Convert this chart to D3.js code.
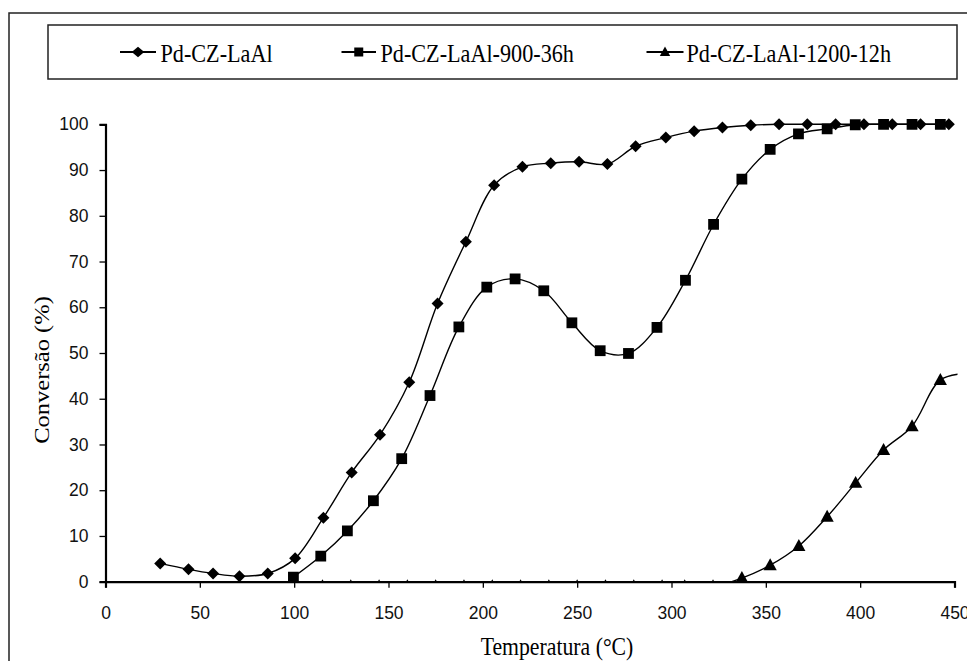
<!DOCTYPE html>
<html>
<head>
<meta charset="utf-8">
<script src="https://cdn.jsdelivr.net/npm/d3@7"></script>
<style>
  html, body { margin: 0; padding: 0; background: #fff; }
  svg { display: block; }
</style>
</head>
<body>
<svg id="chart" width="967" height="661"></svg>
<script>
// ---- Data ----
const seriesNames = ["Pd-CZ-LaAl", "Pd-CZ-LaAl-900-36h", "Pd-CZ-LaAl-1200-12h"];

const tempA = [29, 44, 57, 71, 86, 100.5, 115.5, 130.5, 145.5, 161, 176, 191, 206, 221, 236, 251, 266, 281, 297, 312, 327, 342, 357, 372, 387, 402, 417, 432, 447];
const convA = [4.0, 2.7, 1.8, 1.2, 1.8, 5.1, 14.0, 23.9, 32.1, 43.6, 60.8, 74.3, 86.7, 90.7, 91.5, 91.8, 91.3, 95.2, 97.1, 98.5, 99.3, 99.8, 100, 100, 100, 100, 100, 100, 100];

const tempB = [99.6, 114.1, 128.2, 142, 157, 172, 187.3, 202.1, 217.1, 232.3, 247.2, 262.2, 277.2, 292.3, 307.4, 322.3, 337.3, 352.3, 367.3, 382.5, 397.4, 412.4, 427.5, 442.5];
const convB = [1.0, 5.6, 11.1, 17.7, 26.9, 40.7, 55.7, 64.4, 66.2, 63.6, 56.6, 50.5, 49.9, 55.6, 65.9, 78.1, 88.0, 94.5, 97.9, 99.0, 99.9, 100, 100, 100];

const tempC = [100, 115, 130, 145, 160, 175, 190, 205, 220, 235, 250, 265, 280, 295, 307, 322, 337.3, 352.3, 367.5, 382.5, 397.6, 412.4, 427.5, 442.5, 457.5];
const convC = [-1, -1, -1, -1, -1, -1, -1, -1, -1, -1, -1, -1, -1, -1, -1, -1, 0.8, 3.6, 7.8, 14.2, 21.6, 28.8, 34.0, 44.1, 45.6];

const xTicks = [0, 50, 100, 150, 200, 250, 300, 350, 400, 450];
const yTicks = [0, 10, 20, 30, 40, 50, 60, 70, 80, 90, 100];
const markerTypes = ["diamond", "square", "triangle"];

// ---- Layout ----
const svg = d3.select("#chart");
const X0 = 105.5, X1 = 954.5, Y0 = 581.7, Y1 = 124.3;
const x = d3.scaleLinear().domain([0, 450]).range([X0, X1]);
const y = d3.scaleLinear().domain([0, 100]).range([Y0, Y1]);

const serif = "'Liberation Serif', 'Times New Roman', serif";
const sans = "'Liberation Sans', Arial, sans-serif";

// outer frame
svg.append("rect").attr("x", 9).attr("y", 13).attr("width", 1000).attr("height", 700)
  .attr("fill", "none").attr("stroke", "#222").attr("stroke-width", 1.5);

// marker path generator
function markerPath(type, s) {
  if (type === "diamond") return `M0,${-s}L${s},0L0,${s}L${-s},0Z`;
  if (type === "square") return `M${-s},${-s}H${s}V${s}H${-s}Z`;
  return `M0,${-s*1.05}L${s},${s*0.75}L${-s},${s*0.75}Z`;
}
const markerSize = { diamond: 6, square: 5.4, triangle: 6.6 };

// ---- Legend ----
const legend = svg.append("g");
legend.append("rect").attr("x", 48).attr("y", 25).attr("width", 909).attr("height", 54)
  .attr("fill", "#fff").attr("stroke", "#222").attr("stroke-width", 1.5);
const legendItems = [
  { lx0: 120, lx1: 156, tx: 160.5 },
  { lx0: 341.5, lx1: 376, tx: 380.5 },
  { lx0: 646.5, lx1: 683.5, tx: 686.5 }
];
legendItems.forEach((it, i) => {
  const cy = 52;
  legend.append("line").attr("x1", it.lx0).attr("x2", it.lx1).attr("y1", cy).attr("y2", cy)
    .attr("stroke", "#000").attr("stroke-width", 2);
  const t = markerTypes[i];
  const s = t === "diamond" ? 5.2 : (t === "square" ? 4.5 : 5.2);
  legend.append("path").attr("d", markerPath(t, s))
    .attr("transform", `translate(${(it.lx0 + it.lx1) / 2},${cy}) scale(${t === "diamond" ? 1.2 : 1},1)`)
    .attr("fill", "#000");
  legend.append("text").attr("transform", `translate(${it.tx},62) scale(0.87,1)`)
    .attr("font-family", serif).attr("font-size", 25.5).attr("fill", "#000")
    .text(seriesNames[i]);
});

// ---- Axes ----
const xAxis = d3.axisBottom(x).tickValues(xTicks).tickSize(6).tickPadding(19).tickFormat(d3.format("d"));
const yAxis = d3.axisLeft(y).tickValues(yTicks).tickSize(6).tickPadding(11).tickFormat(d3.format("d"));

const gx = svg.append("g").attr("transform", `translate(0,${Y0})`).call(xAxis);
const gy = svg.append("g").attr("transform", `translate(${X0},0)`).call(yAxis);
[gx, gy].forEach(g => {
  g.select(".domain").attr("stroke", "#000").attr("stroke-width", 2.2);
  g.selectAll(".tick line").attr("stroke", "#000").attr("stroke-width", 1.3);
  g.selectAll(".tick text").attr("font-family", sans).attr("font-size", 17.5).attr("fill", "#111");
});
gx.selectAll(".tick text").attr("dy", "0.71em");

// axis titles
svg.append("text").attr("transform", `translate(557,655) scale(0.87,1)`)
  .attr("text-anchor", "middle").attr("font-family", serif).attr("font-size", 25).attr("fill", "#000")
  .text("Temperatura (°C)");
svg.append("text").attr("transform", `translate(49,370) scale(0.87,1) rotate(-90)`)
  .attr("text-anchor", "middle").attr("font-family", serif).attr("font-size", 24.5).attr("fill", "#000")
  .text("Conversão (%)");

// ---- Series ----
svg.append("clipPath").attr("id", "plotclip").append("rect")
  .attr("x", X0 - 2).attr("y", Y1 - 10).attr("width", X1 - X0 + 5).attr("height", Y0 - Y1 + 11);

const plot = svg.append("g").attr("clip-path", "url(#plotclip)");
const line = d3.line().x(d => x(d[0])).y(d => y(d[1])).curve(d3.curveCatmullRom.alpha(0.5));

const allSeries = [
  d3.zip(tempA, convA),
  d3.zip(tempB, convB),
  d3.zip(tempC, convC)
];

allSeries.forEach((pts, i) => {
  plot.append("path").attr("d", line(pts)).attr("fill", "none")
    .attr("stroke", "#000").attr("stroke-width", 1.4);
});
allSeries.forEach((pts, i) => {
  const t = markerTypes[i];
  plot.selectAll(null).data(pts).enter().append("path")
    .attr("d", markerPath(t, markerSize[t]))
    .attr("transform", d => `translate(${x(d[0])},${y(d[1])})`)
    .attr("fill", "#000");
});
</script>
</body>
</html>
